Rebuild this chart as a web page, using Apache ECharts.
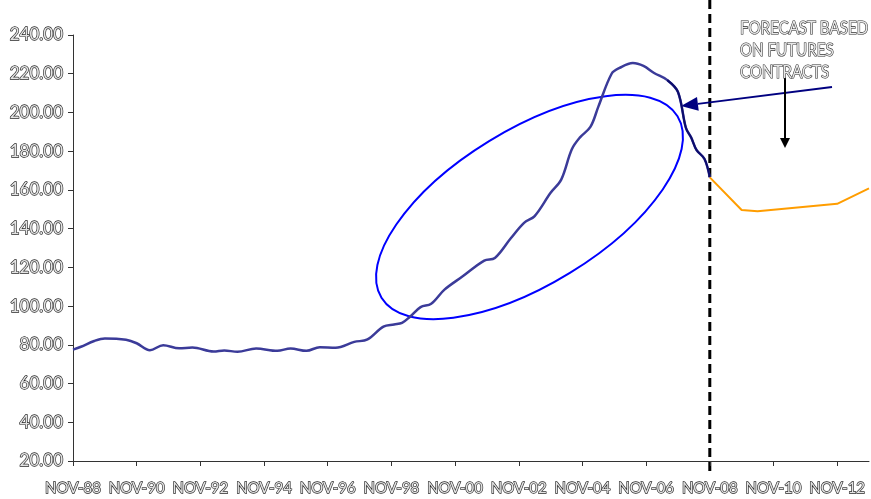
<!DOCTYPE html>
<html>
<head>
<meta charset="utf-8">
<script src="https://cdn.jsdelivr.net/npm/echarts@6/dist/echarts.min.js"></script>
<style>
  html, body { margin: 0; padding: 0; background: #fff; }
  #chart { width: 871px; height: 499px; }
</style>
</head>
<body>
<div id="chart"></div>
<script>
// Month index counted from November 1988 (0 = NOV-88)
const priceMonths = [0, 3, 8, 12, 20, 24, 29, 34, 40, 45, 53, 57, 62, 69, 77, 82, 88, 93, 99, 106,
  111, 117, 121, 124, 127, 131, 135, 140, 147, 155, 159, 165, 170, 174, 180, 184, 188, 191, 195,
  198, 203, 206, 211, 215, 219, 224, 228, 231, 233, 235, 238, 240];
const priceValues = [77.5, 79, 82, 83.3, 82.6, 80.8, 77.2, 79.8, 78.2, 78.6, 76.5, 77.1, 76.4, 78.1,
  76.9, 78.1, 76.9, 78.8, 78.5, 81.5, 82.8, 89.4, 90.5, 91.3, 94.5, 99.5, 101.2, 108.5, 115.5,
  123.5, 124.8, 135, 143, 146.5, 158.5, 165.3, 181, 187, 192.5, 203, 220, 223, 225.5, 224, 220.4,
  216.7, 210.6, 192, 187, 180.6, 176, 166.5];
const recentFromMonth = 224;
const forecastMonths = [240, 252, 258, 288, 300];
const forecastValues = [166.5, 149.6, 149, 152.8, 160.8];
const forecastStartMonth = 240;
const xTickMonths = [0, 24, 48, 72, 96, 120, 144, 168, 192, 216, 240, 264, 288];
const noteLines = ['FORECAST BASED', 'ON FUTURES', 'CONTRACTS'];

const pricePairs = priceMonths.map((m, i) => [m, priceValues[i]]);
const recentPairs = pricePairs.filter(p => p[0] >= recentFromMonth);
const forecastPairs = forecastMonths.map((m, i) => [m, forecastValues[i]]);

function monthLabel(m) {
  const yy = (88 + Math.round(m / 12)) % 100;
  return 'NOV-' + String(yy).padStart(2, '0');
}

// hollow, shadowed lettering
const embossed = {
  fontFamily: 'Lato',
  color: '#e4e4e4',
  textBorderColor: '#262626',
  textBorderWidth: 1.3,
  textShadowColor: 'rgba(0,0,0,0.5)',
  textShadowOffsetX: 1,
  textShadowOffsetY: 1
};

const chart = echarts.init(document.getElementById('chart'));
chart.setOption({
  animation: false,
  backgroundColor: '#fff',
  grid: { left: 73, right: 2, top: 35, bottom: 38 },
  xAxis: {
    type: 'value',
    min: 0,
    max: 300,
    splitLine: { show: false },
    axisLine: { lineStyle: { color: '#333', width: 1 } },
    axisTick: { length: 5, customValues: xTickMonths, lineStyle: { color: '#333' } },
    axisLabel: Object.assign({ fontSize: 15, margin: 20, customValues: xTickMonths, formatter: monthLabel }, embossed)
  },
  yAxis: {
    type: 'value',
    min: 20,
    max: 240,
    interval: 20,
    splitLine: { show: false },
    axisLine: { show: true, lineStyle: { color: '#333', width: 1 } },
    axisTick: { show: true, length: 5, lineStyle: { color: '#333' } },
    axisLabel: Object.assign({ fontSize: 17, margin: 10, formatter: v => v.toFixed(2) }, embossed)
  },
  series: [
    {
      type: 'line',
      data: pricePairs,
      smooth: 0.35,
      showSymbol: false,
      lineStyle: { color: '#3b3b99', width: 2.5 }
    },
    {
      type: 'line',
      data: recentPairs,
      smooth: 0.35,
      showSymbol: false,
      lineStyle: { color: '#0c0c6c', width: 2 }
    },
    {
      type: 'line',
      data: forecastPairs,
      showSymbol: false,
      lineStyle: { color: '#ff9d00', width: 2 }
    }
  ]
});

// annotations
const splitX = chart.convertToPixel({ xAxisIndex: 0 }, forecastStartMonth);

function arrow(x1, y1, x2, y2, headLen, headHalf, color, width) {
  const dx = x2 - x1, dy = y2 - y1;
  const len = Math.sqrt(dx * dx + dy * dy);
  const ux = dx / len, uy = dy / len;
  const bx = x2 - ux * headLen, by = y2 - uy * headLen;
  const px = -uy * headHalf, py = ux * headHalf;
  return [
    { type: 'line', shape: { x1: x1, y1: y1, x2: bx, y2: by }, style: { stroke: color, lineWidth: width } },
    { type: 'polygon', shape: { points: [[x2, y2], [bx + px, by + py], [bx - px, by - py]] }, style: { fill: color } }
  ];
}

chart.setOption({
  graphic: [
    {
      type: 'line',
      shape: { x1: splitX, y1: 0, x2: splitX, y2: 472 },
      style: { stroke: '#000', lineWidth: 3, lineDash: [9, 5] }
    },
    {
      type: 'ellipse',
      x: 529.5, y: 207,
      rotation: 31.5 * Math.PI / 180,
      shape: { cx: 0, cy: 0, rx: 173.6, ry: 77.3 },
      style: { fill: 'none', stroke: '#0000ff', lineWidth: 2 }
    },
    ...arrow(832, 87, 681, 106, 17, 7, '#000080', 2),
    ...arrow(785, 77, 785, 148, 10, 5, '#000', 2),
    {
      type: 'text',
      x: 740, y: 17,
      scaleX: 0.84,
      style: {
        text: noteLines.join('\n'),
        font: '18px Lato',
        lineHeight: 22,
        fill: '#e8e8e8',
        stroke: '#262626',
        lineWidth: 1.2,
        shadowColor: 'rgba(0,0,0,0.45)',
        shadowOffsetX: 1,
        shadowOffsetY: 1
      }
    }
  ]
});
</script>
</body>
</html>
